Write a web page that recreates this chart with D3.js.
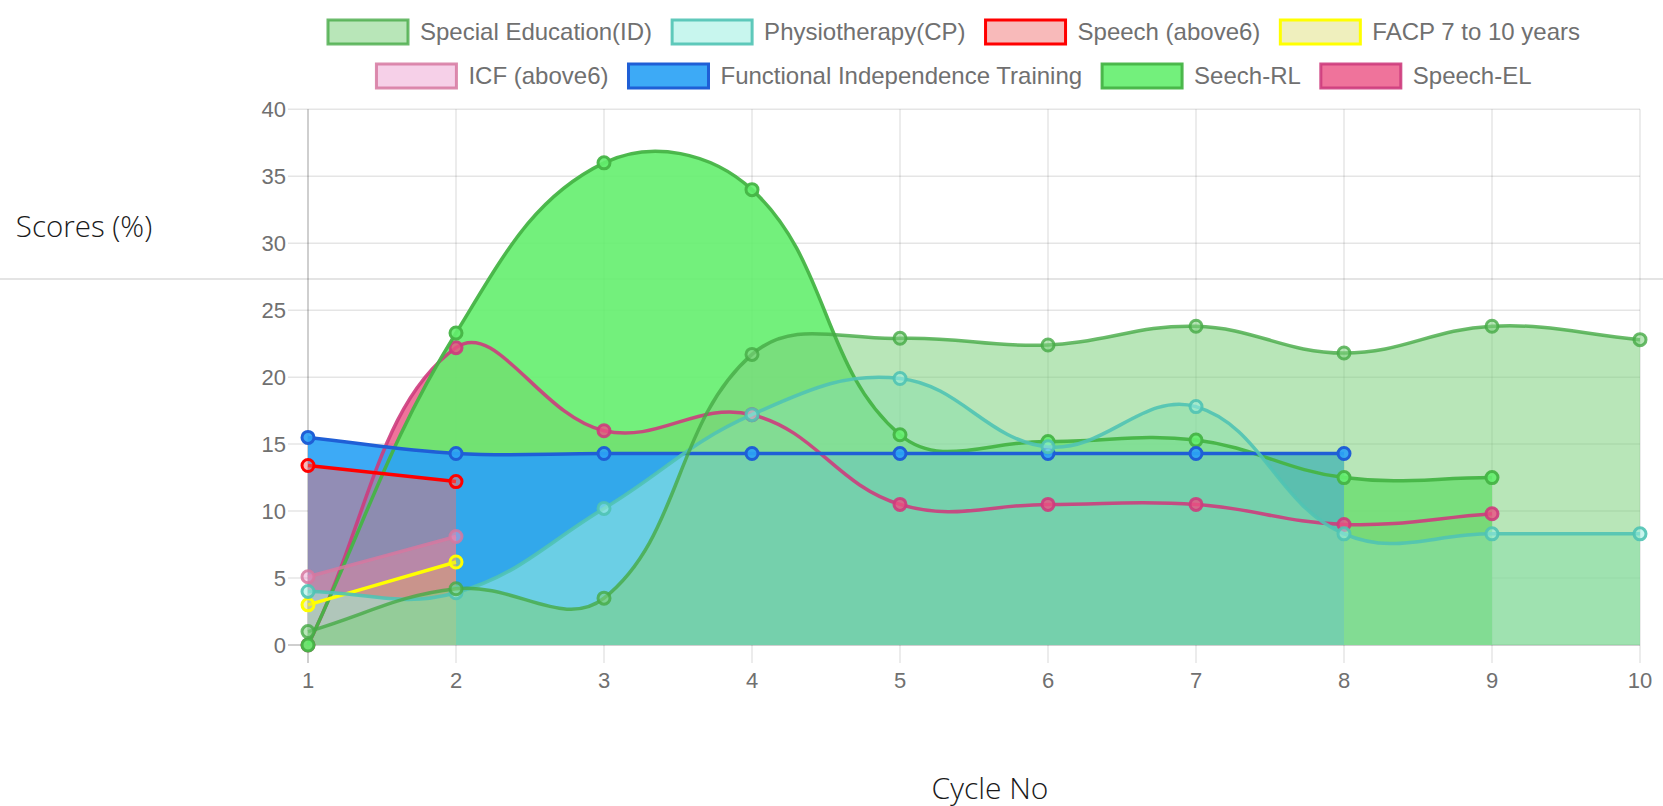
<!DOCTYPE html>
<html>
<head>
<meta charset="utf-8">
<script src="https://cdn.jsdelivr.net/npm/d3@7"></script>
<style>
  body { margin: 0; background: #fff; }
  svg { display: block; }
</style>
</head>
<body>
<svg id="chart" width="1663" height="806"></svg>
<script>
// chart values
const cycles = [1, 2, 3, 4, 5, 6, 7, 8, 9, 10]
const yTicks = [0, 5, 10, 15, 20, 25, 30, 35, 40]
const seriesNames = ['Special Education(ID)', 'Physiotherapy(CP)', 'Speech (above6)', 'FACP 7 to 10 years',
    'ICF (above6)', 'Functional Independence Training', 'Seech-RL', 'Speech-EL']
const specialEd = [1.0, 4.2, 3.5, 21.7, 22.9, 22.4, 23.8, 21.8, 23.8, 22.8]
const physio = [4.0, 3.9, 10.2, 17.2, 19.9, 14.8, 17.8, 8.3, 8.3, 8.3]
const speechAbove6 = [13.4, 12.2]
const facp = [3.0, 6.2]
const icf = [5.1, 8.1]
const fit = [15.5, 14.3, 14.3, 14.3, 14.3, 14.3, 14.3, 14.3]
const seechRL = [0, 23.3, 36.0, 34.0, 15.7, 15.2, 15.3, 12.5, 12.5]
const speechEL = [0, 22.2, 16.0, 17.2, 10.5, 10.5, 10.5, 9.0, 9.8]

const allValues = [specialEd, physio, speechAbove6, facp, icf, fit, seechRL, speechEL]

// fill / line colours per series
const fills = ['rgba(126,210,126,0.55)', 'rgba(155,239,224,0.55)', 'rgba(240,110,110,0.48)', 'rgba(215,215,90,0.4)',
    'rgba(235,150,205,0.45)', 'rgba(45,163,245,0.92)', 'rgba(100,238,110,0.9)', 'rgba(235,80,130,0.8)']
const borders = ['rgba(70,170,70,0.8)', 'rgba(80,195,180,0.9)', '#ff0000', '#ffff00',
    'rgba(214,120,160,0.85)', '#1f5fd6', 'rgba(70,180,70,0.95)', 'rgba(205,60,125,0.9)']

const datasets = seriesNames.map((name, i) => ({
    name: name,
    values: allValues[i].map((v, j) => ({ x: cycles[j], y: v })),
    fill: fills[i],
    border: borders[i]
}))

const svg = d3.select('#chart')
const area = { left: 308, right: 1640, top: 109.3, bottom: 645 }

const x = d3.scaleLinear().domain([1, 10]).range([area.left, area.right])
const y = d3.scaleLinear().domain([0, 40]).range([area.bottom, area.top])

const tickFont = '"Liberation Sans", Arial, Helvetica, sans-serif'

// page rule that sits behind the chart
svg.append('line')
    .attr('x1', 0).attr('x2', 1663)
    .attr('y1', 279).attr('y2', 279)
    .attr('stroke', '#e4e4e4')
    .attr('stroke-width', 2)

// grid
const grid = svg.append('g')
grid.selectAll('.hgrid')
    .data(yTicks)
    .join('line')
    .attr('x1', area.left - 20)
    .attr('x2', area.right)
    .attr('y1', d => y(d))
    .attr('y2', d => y(d))
    .attr('stroke', d => d === 0 ? 'rgba(0,0,0,0.25)' : 'rgba(0,0,0,0.1)')
    .attr('stroke-width', 1.5)
grid.selectAll('.vgrid')
    .data(cycles)
    .join('line')
    .attr('x1', d => x(d))
    .attr('x2', d => x(d))
    .attr('y1', area.top)
    .attr('y2', area.bottom + 18)
    .attr('stroke', d => d === 1 ? 'rgba(0,0,0,0.25)' : 'rgba(0,0,0,0.1)')
    .attr('stroke-width', 1.5)

// tick labels
svg.append('g')
    .selectAll('text')
    .data(yTicks)
    .join('text')
    .text(d => d)
    .attr('x', area.left - 22)
    .attr('y', d => y(d))
    .attr('dy', '0.35em')
    .attr('text-anchor', 'end')
    .attr('font-family', tickFont)
    .attr('font-size', 22)
    .attr('fill', '#707070')

svg.append('g')
    .selectAll('text')
    .data(cycles)
    .join('text')
    .text(d => d)
    .attr('x', d => x(d))
    .attr('y', 680)
    .attr('dy', '0.35em')
    .attr('text-anchor', 'middle')
    .attr('font-family', tickFont)
    .attr('font-size', 22)
    .attr('fill', '#707070')

// Chart.js style spline (tension 0.4, control points capped to chart area)
function chartSpline(context) {
    const tension = 0.4
    return {
        areaStart() {},
        areaEnd() {},
        lineStart() { this._pts = [] },
        point(px, py) { this._pts.push([+px, +py]) },
        lineEnd() {
            const pts = this._pts
            if (!pts.length) return
            const cps = pts.map((cur, i) => {
                const prev = pts[i - 1] || cur
                const next = pts[i + 1] || cur
                const d01 = Math.hypot(cur[0] - prev[0], cur[1] - prev[1])
                const d12 = Math.hypot(next[0] - cur[0], next[1] - cur[1])
                let s01 = d01 / (d01 + d12)
                let s12 = d12 / (d01 + d12)
                if (isNaN(s01)) s01 = 0
                if (isNaN(s12)) s12 = 0
                const fa = tension * s01
                const fb = tension * s12
                const cap = p => [Math.max(area.left, Math.min(area.right, p[0])),
                    Math.max(area.top, Math.min(area.bottom, p[1]))]
                return {
                    prev: cap([cur[0] - fa * (next[0] - prev[0]), cur[1] - fa * (next[1] - prev[1])]),
                    next: cap([cur[0] + fb * (next[0] - prev[0]), cur[1] + fb * (next[1] - prev[1])])
                }
            })
            context.moveTo(pts[0][0], pts[0][1])
            for (let i = 1; i < pts.length; i++) {
                const a = cps[i - 1].next
                const b = cps[i].prev
                context.bezierCurveTo(a[0], a[1], b[0], b[1], pts[i][0], pts[i][1])
            }
        }
    }
}

const line = d3.line()
    .x(d => x(d.x))
    .y(d => y(d.y))
    .curve(chartSpline)

// fills first, last dataset at the bottom
const order = datasets.slice().reverse()
svg.append('g')
    .selectAll('path')
    .data(order)
    .join('path')
    .attr('d', d => {
        const first = d.values[0]
        const last = d.values[d.values.length - 1]
        return line(d.values) + `L${x(last.x)},${y(0)}L${x(first.x)},${y(0)}Z`
    })
    .attr('fill', d => d.fill)
    .attr('stroke', 'none')

// lines and points, dataset 0 ends up on top
const series = svg.append('g')
    .selectAll('g')
    .data(order)
    .join('g')

series.append('path')
    .attr('d', d => line(d.values))
    .attr('fill', 'none')
    .attr('stroke', d => d.border)
    .attr('stroke-width', 3.5)

series.selectAll('circle')
    .data(d => d.values.map(v => ({ ...v, fill: d.fill, border: d.border })))
    .join('circle')
    .attr('cx', d => x(d.x))
    .attr('cy', d => y(d.y))
    .attr('r', 6)
    .attr('fill', d => d.fill)
    .attr('stroke', d => d.border)
    .attr('stroke-width', 3)

// legend, two centred rows like Chart.js
const legendRows = [datasets.slice(0, 4), datasets.slice(4)]
const legendCenter = 954
const boxW = 80, boxH = 24, gap = 20, textPad = 12
legendRows.forEach((row, r) => {
    const cy = 32 + r * 44
    const g = svg.append('g')
    const items = g.selectAll('g')
        .data(row)
        .join('g')
    items.append('rect')
        .attr('width', boxW)
        .attr('height', boxH)
        .attr('y', cy - boxH / 2)
        .attr('fill', d => d.fill)
        .attr('stroke', d => d.border)
        .attr('stroke-width', 3)
    items.append('text')
        .text(d => d.name)
        .attr('x', boxW + textPad)
        .attr('y', cy)
        .attr('dy', '0.35em')
        .attr('font-family', tickFont)
        .attr('font-size', 24)
        .attr('fill', '#707070')
    const widths = items.nodes().map(n => boxW + textPad + d3.select(n).select('text').node().getComputedTextLength())
    const total = d3.sum(widths) + gap * (widths.length - 1)
    let cursor = legendCenter - total / 2
    items.attr('transform', (d, i) => {
        const tx = cursor
        cursor += widths[i] + gap
        return `translate(${tx},0)`
    })
})

// axis titles
svg.append('text')
    .text('Scores (%)')
    .attr('x', 84)
    .attr('y', 227)
    .attr('dy', '0.35em')
    .attr('text-anchor', 'middle')
    .attr('font-family', '"Open Sans", sans-serif')
    .attr('font-weight', 300)
    .attr('font-size', 29.5)
    .attr('fill', '#1a1a1a')

svg.append('text')
    .text('Cycle No')
    .attr('x', 990)
    .attr('y', 788)
    .attr('dy', '0.35em')
    .attr('text-anchor', 'middle')
    .attr('font-family', '"Open Sans", sans-serif')
    .attr('font-weight', 300)
    .attr('font-size', 30)
    .attr('fill', '#1a1a1a')
</script>
</body>
</html>
